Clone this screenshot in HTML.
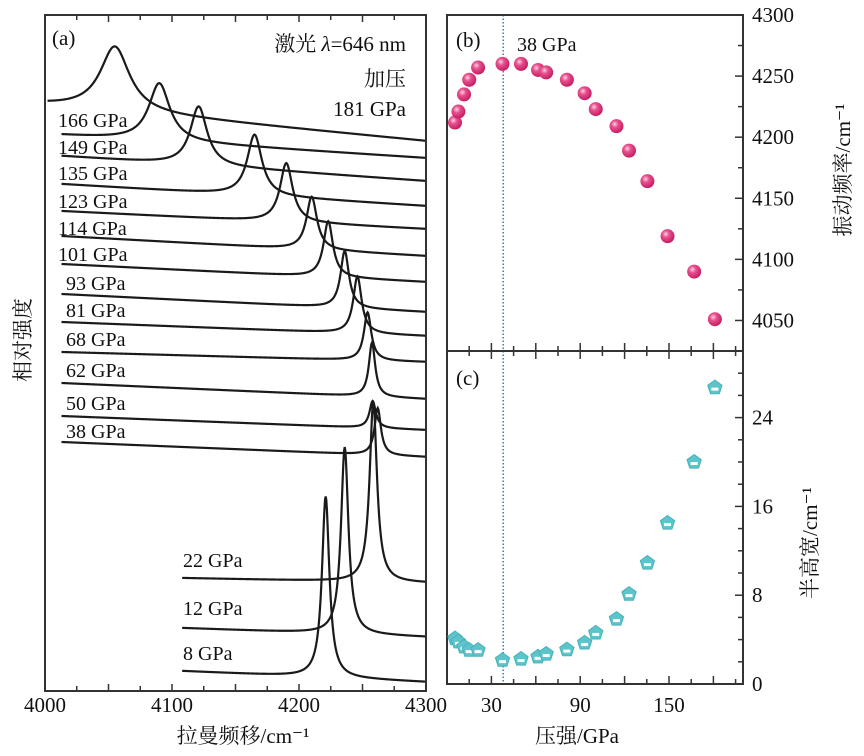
<!DOCTYPE html>
<html><head><meta charset="utf-8">
<style>
html,body{margin:0;padding:0;background:#fff;}
svg{display:block;font-family:"Liberation Serif","Noto Serif CJK SC",serif;}
</style></head>
<body>
<svg id="fig" width="864" height="756" viewBox="0 0 864 756" xmlns="http://www.w3.org/2000/svg">
<defs>
<radialGradient id="ball" cx="0.38" cy="0.35" r="0.7">
<stop offset="0" stop-color="#ffd0e4"/><stop offset="0.35" stop-color="#e8508e"/><stop offset="1" stop-color="#c0185c"/>
</radialGradient>
</defs>
<g id="pa"></g>
<g id="pb"></g>
<g id="pc"></g>
</svg>
<script>
// ---------- Panel (a) data ----------
const aPressures = ["181","166","149","135","123","114","101","93","81","68","62","50","38","22","12","8"];
const aPeak = [4055,4090,4121,4165,4190,4210,4223,4236,4246,4254,4257.5,4258,4262,4258.5,4236,4221];
const aAmp = [65,58,59,61,59,53,56,57,57,48,54,27,47,180,187,181];
const aHwhm = [14,10,8,7,6,5,4.5,4,4,3.5,3,3,3,3.5,3.5,3.5];
const aStart = [4002,4013,4013,4013,4013,4013,4013,4013,4013,4013,4013,4013,4013,4108,4108,4108];
const aBaseL = [586,556,535,507,480,455,427,397,369,339,308,275,249,113,63,20];
const aBaseR = [550,533,510,485,462,435,409,379,355,329,292,261,234,108,54,9];
const aTicks = [4000,4100,4200,4300];
// ---------- Panel (b)/(c) data ----------
const pressure = [5.4,7.7,11.5,15,21,37.5,50,61.5,67,81,93,100.5,114.5,123,135.4,149,167,181];
const freq = [4212,4221,4235,4247,4257,4260,4260,4255,4253,4247,4236,4223,4209,4189,4164,4119,4090,4051];
const fwhm = [4.1,3.8,3.35,3.05,3.05,2.15,2.25,2.45,2.7,3.1,3.7,4.6,5.85,8.1,10.9,14.5,20,26.7];
const pTicks = [30,90,150];
const bTicks = [4050,4100,4150,4200,4250,4300];
const cTicks = [0,8,16,24];

const NS="http://www.w3.org/2000/svg";
function mk(parent,tag,attrs,text){const e=document.createElementNS(NS,tag);for(const k in attrs)e.setAttribute(k,attrs[k]);if(text!==undefined)e.textContent=text;parent.appendChild(e);return e;}

const A={x0:45,x1:426,y0:15,y1:691};
const xA=v=>A.x0+(v-4000)/300*(A.x1-A.x0);
const yA=v=>A.y1-v;
const B={x0:447,x1:743,y0:15,y1:351};
const xP=v=>B.x0+v*(B.x1-B.x0)/200;
const yB=v=>B.y1-(v-4025)/275*(B.y1-B.y0);
const C={y0:351,y1:684};
const yC=v=>C.y1-v/30*(C.y1-C.y0);

// ---- Panel a ----
const pa=document.getElementById('pa');
for(let i=0;i<aPressures.length;i++){
  let d="";
  for(let w=aStart[i];w<=4300;w+=0.5){
    const t=(w-aStart[i])/(4300-aStart[i]);
    const base=aBaseL[i]+(aBaseR[i]-aBaseL[i])*t;
    const g=aHwhm[i];
    const v=base+aAmp[i]*g*g/((w-aPeak[i])**2+g*g);
    d+=(d?"L":"M")+xA(w).toFixed(2)+","+yA(v).toFixed(2);
  }
  const p=mk(pa,'path',{d:d,fill:'none',stroke:'#1a1a1a','stroke-width':2.2});
  
  
}
const aLabels=[[null,0],[58,127],[58,154],[58,180],[58,208],[58,235],[58,261],[66,290],[66,317],[66,346],[66,377],[66,410],[66,438],[183,567],[183,615],[183,660]];
for(let i=1;i<aPressures.length;i++){
  const t=mk(pa,'text',{x:aLabels[i][0],y:aLabels[i][1],'font-size':20,fill:'#111'},aPressures[i]+" GPa");
  
  
}
mk(pa,'rect',{x:A.x0,y:A.y0,width:A.x1-A.x0,height:A.y1-A.y0,fill:'none',stroke:'#333','stroke-width':2,});
for(let v=4000;v<=4300;v+=25){
  const L=(v%50===0)?7:5;
  mk(pa,'line',{x1:xA(v),x2:xA(v),y1:A.y1,y2:A.y1-L,stroke:'#333','stroke-width':1.5});
  mk(pa,'line',{x1:xA(v),x2:xA(v),y1:A.y0,y2:A.y0+L,stroke:'#333','stroke-width':1.5});
}
aTicks.forEach(v=>{const t=mk(pa,'text',{x:xA(v),y:712,'font-size':21,'text-anchor':'middle',fill:'#111'},v);
  });
mk(pa,'text',{x:243,y:743,'font-size':21,'text-anchor':'middle',fill:'#111',},"拉曼频移/cm⁻¹");
mk(pa,'text',{x:0,y:0,'font-size':21,'text-anchor':'middle',fill:'#111',transform:'translate(30,340) rotate(-90)',},"相对强度");
mk(pa,'text',{x:52,y:45,'font-size':21,fill:'#111',},"(a)");
const laser=mk(pa,'text',{x:406,y:51,'font-size':21,'text-anchor':'end',fill:'#111',});
mk(laser,'tspan',{},"激光  ");mk(laser,'tspan',{'font-style':'italic'},"λ");mk(laser,'tspan',{},"=646 nm");
mk(pa,'text',{x:406,y:86,'font-size':21,'text-anchor':'end',fill:'#111',},"加压");
mk(pa,'text',{x:406,y:116,'font-size':21,'text-anchor':'end',fill:'#111',},"181 GPa");

// ---- Panel b ----
const pb=document.getElementById('pb');
mk(pb,'line',{x1:xP(38),x2:xP(38),y1:B.y0,y2:C.y1,stroke:'#4a7fb5','stroke-width':1.6,'stroke-dasharray':'1.5,2',});
for(let i=0;i<pressure.length;i++){
  const c=mk(pb,'circle',{cx:xP(pressure[i]),cy:yB(freq[i]),r:7,fill:'url(#ball)'});
  
  
}
mk(pb,'rect',{x:B.x0,y:B.y0,width:B.x1-B.x0,height:C.y1-B.y0,fill:'none',stroke:'#333','stroke-width':2,});
mk(pb,'line',{x1:B.x0,x2:B.x1,y1:B.y1,y2:B.y1,stroke:'#333','stroke-width':2});
for(let v=4050;v<=4300;v+=25){const L=(v%50===0)?8:5;mk(pb,'line',{x1:B.x1,x2:B.x1-L,y1:yB(v),y2:yB(v),stroke:'#333','stroke-width':1.5});}
bTicks.forEach(v=>{const t=mk(pb,'text',{x:752,y:yB(v)+7,'font-size':21,fill:'#111'},v);
  });
for(let v=0;v<=195;v+=15){const L=(v%30===0)?8:5;
  mk(pb,'line',{x1:xP(v),x2:xP(v),y1:B.y1-L,y2:B.y1+L,stroke:'#333','stroke-width':1.5});
  mk(pb,'line',{x1:xP(v),x2:xP(v),y1:C.y1,y2:C.y1-L,stroke:'#333','stroke-width':1.5});}
mk(pb,'text',{x:456,y:47,'font-size':21,fill:'#111',},"(b)");
mk(pb,'text',{x:517,y:51,'font-size':20,fill:'#111',},"38 GPa");
mk(pb,'text',{x:0,y:0,'font-size':21,'text-anchor':'middle',fill:'#111',transform:'translate(850,170) rotate(-90)',},"振动频率/cm⁻¹");

// ---- Panel c ----
const pc=document.getElementById('pc');
for(let i=0;i<pressure.length;i++){
  const cx=xP(pressure[i]),cy=yC(fwhm[i]),r=7.5;
  let pts=[];for(let k=0;k<5;k++){const a=-Math.PI/2+k*2*Math.PI/5;pts.push((cx+r*Math.cos(a)).toFixed(1)+","+(cy+r*Math.sin(a)).toFixed(1));}
  const g=mk(pc,'g',{});
  
  
  mk(g,'polygon',{points:pts.join(" "),fill:'#5cc4ca',stroke:'#49b3ba','stroke-width':1});
  mk(g,'rect',{x:cx-3.5,y:cy,width:7,height:3,fill:'#fff'});
}
for(let v=0;v<=30;v+=2){const L=(v%8===0)?8:5;mk(pc,'line',{x1:B.x1,x2:B.x1-L,y1:yC(v),y2:yC(v),stroke:'#333','stroke-width':1.5});}
cTicks.forEach(v=>{const t=mk(pc,'text',{x:752,y:yC(v)+7,'font-size':21,fill:'#111'},v);
  });
pTicks.forEach(v=>{const t=mk(pc,'text',{x:xP(v),y:712,'font-size':21,'text-anchor':'middle',fill:'#111'},v);
  });
mk(pc,'text',{x:456,y:385,'font-size':21,fill:'#111',},"(c)");
mk(pc,'text',{x:577,y:743,'font-size':21,'text-anchor':'middle',fill:'#111',},"压强/GPa");
mk(pc,'text',{x:0,y:0,'font-size':21,'text-anchor':'middle',fill:'#111',transform:'translate(817,543) rotate(-90)',},"半高宽/cm⁻¹");
</script>
</body></html>
